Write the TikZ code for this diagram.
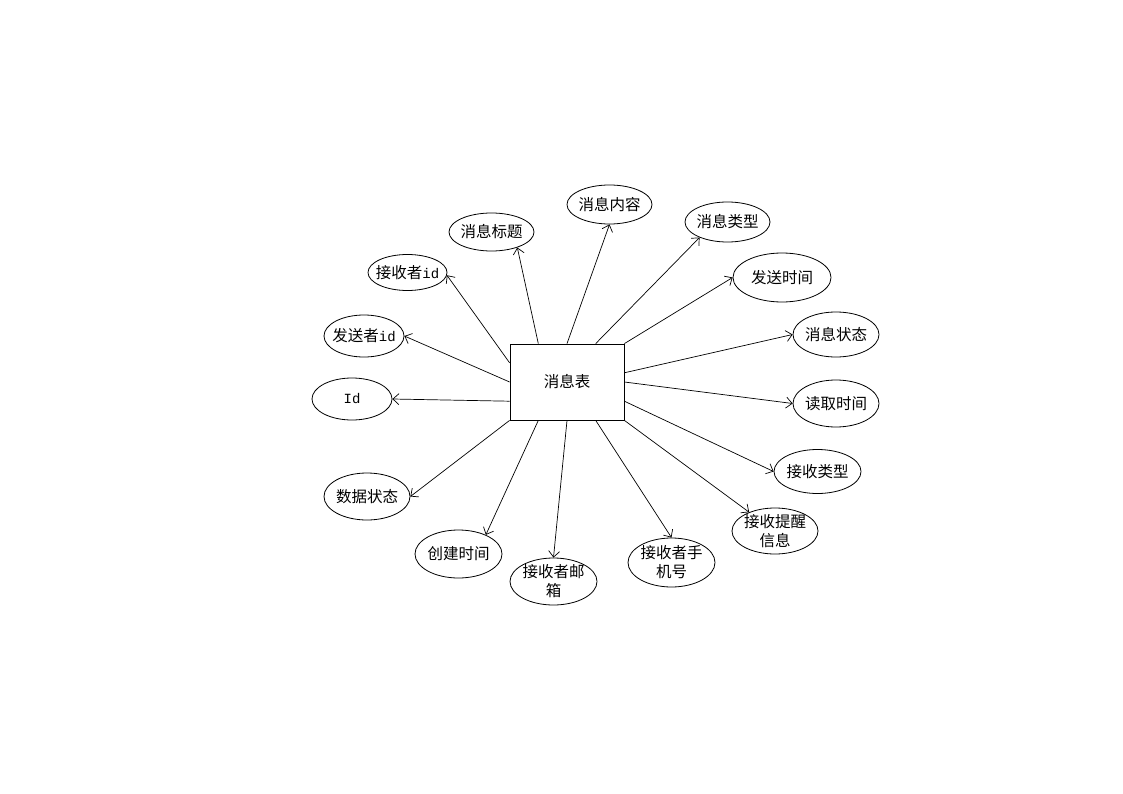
\documentclass[tikz,border=0pt]{standalone}
\usepackage{fontspec}
\setmainfont{Noto Sans CJK SC}
\newfontfamily\latmono{Liberation Mono}
\usetikzlibrary{shapes.geometric,arrows.meta,calc}
\tikzset{
  attr/.style={draw, ellipse, inner sep=0pt, line width=0.8pt},
  ent/.style={draw, rectangle, inner sep=0pt, line width=0.8pt, minimum width=114pt, minimum height=76pt},
  conn/.style={draw, line width=0.7pt, -{Straight Barb[length=6pt,width=11pt]}},
  every label/.style={align=center, font=\fontsize{15.5}{19}\selectfont}
}
\newcommand{\idtxt}[1]{{\latmono\fontsize{14}{16}\selectfont #1}}
\begin{document}
\begin{tikzpicture}[x=1pt,y=-1pt, font=\fontsize{15.5}{19}\selectfont]
\useasboundingbox (0,0) rectangle (1123,794);
\fill[white] (0,0) rectangle (1123,794);
\node[ent] (r) at (567,382) {消息表};
\node[attr, minimum width=85pt, minimum height=39pt, label={center:消息内容}] (a1) at (609.5,204.5) {};
\node[attr, minimum width=85pt, minimum height=38pt, label={center:消息标题}] (a2) at (491.5,232) {};
\node[attr, minimum width=79pt, minimum height=36pt, label={center:接收者\idtxt{id}}] (a3) at (407.5,272.5) {};
\node[attr, minimum width=80pt, minimum height=42pt, label={center:发送者\idtxt{id}}] (a4) at (364,336) {};
\node[attr, minimum width=80pt, minimum height=42pt, label={center:\idtxt{Id}}] (a5) at (352,399) {};
\node[attr, minimum width=85pt, minimum height=40pt, label={center:消息类型}] (a6) at (727.5,222) {};
\node[attr, minimum width=98pt, minimum height=49pt, label={center:发送时间}] (a7) at (782,277.5) {};
\node[attr, minimum width=86pt, minimum height=45pt, label={center:消息状态}] (a8) at (836,334.5) {};
\node[attr, minimum width=86pt, minimum height=47pt, label={center:读取时间}] (a9) at (836,403.5) {};
\node[attr, minimum width=87pt, minimum height=44pt, label={center:接收类型}] (a10) at (817.5,471.5) {};
\node[attr, minimum width=86pt, minimum height=46pt, label={center:接收提醒\\信息}] (a11) at (775,531) {};
\node[attr, minimum width=87pt, minimum height=49pt, label={center:接收者手\\机号}] (a12) at (671.5,562.5) {};
\node[attr, minimum width=87pt, minimum height=47pt, label={center:接收者邮\\箱}] (a13) at (553.5,581.5) {};
\node[attr, minimum width=87pt, minimum height=48pt, label={center:创建时间}] (a14) at (458.5,554) {};
\node[attr, minimum width=86pt, minimum height=47pt, label={center:数据状态}] (a15) at (367,496.5) {};
% connection points on the entity
\coordinate (t1) at ($(r.north west)!0.25!(r.north east)$);
\coordinate (t2) at ($(r.north west)!0.5!(r.north east)$);
\coordinate (t3) at ($(r.north west)!0.75!(r.north east)$);
\coordinate (b1) at ($(r.south west)!0.25!(r.south east)$);
\coordinate (b2) at ($(r.south west)!0.5!(r.south east)$);
\coordinate (b3) at ($(r.south west)!0.75!(r.south east)$);
\coordinate (l1) at ($(r.north west)!0.25!(r.south west)$);
\coordinate (l2) at ($(r.north west)!0.5!(r.south west)$);
\coordinate (l3) at ($(r.north west)!0.75!(r.south west)$);
\coordinate (q1) at ($(r.north east)!0.38!(r.south east)$);
\coordinate (q2) at ($(r.north east)!0.5!(r.south east)$);
\coordinate (q3) at ($(r.north east)!0.75!(r.south east)$);
\draw[conn] (t2) -- (a1.south);
\draw[conn] (t1) -- (a2.-31);
\draw[conn] (l1) -- (a3.-4);
\draw[conn] (l2) -- (a4.east);
\draw[conn] (l3) -- (a5.east);
\draw[conn] (t3) -- (a6.209);
\draw[conn] (r.north east) -- (a7.west);
\draw[conn] (q1) -- (a8.west);
\draw[conn] (q2) -- (a9.west);
\draw[conn] (q3) -- (a10.west);
\draw[conn] (r.south east) -- (a11.144);
\draw[conn] (b3) -- (a12.north);
\draw[conn] (b2) -- (a13.north);
\draw[conn] (b1) -- (a14.35);
\draw[conn] (r.south west) -- (a15.east);
\end{tikzpicture}
\end{document}
